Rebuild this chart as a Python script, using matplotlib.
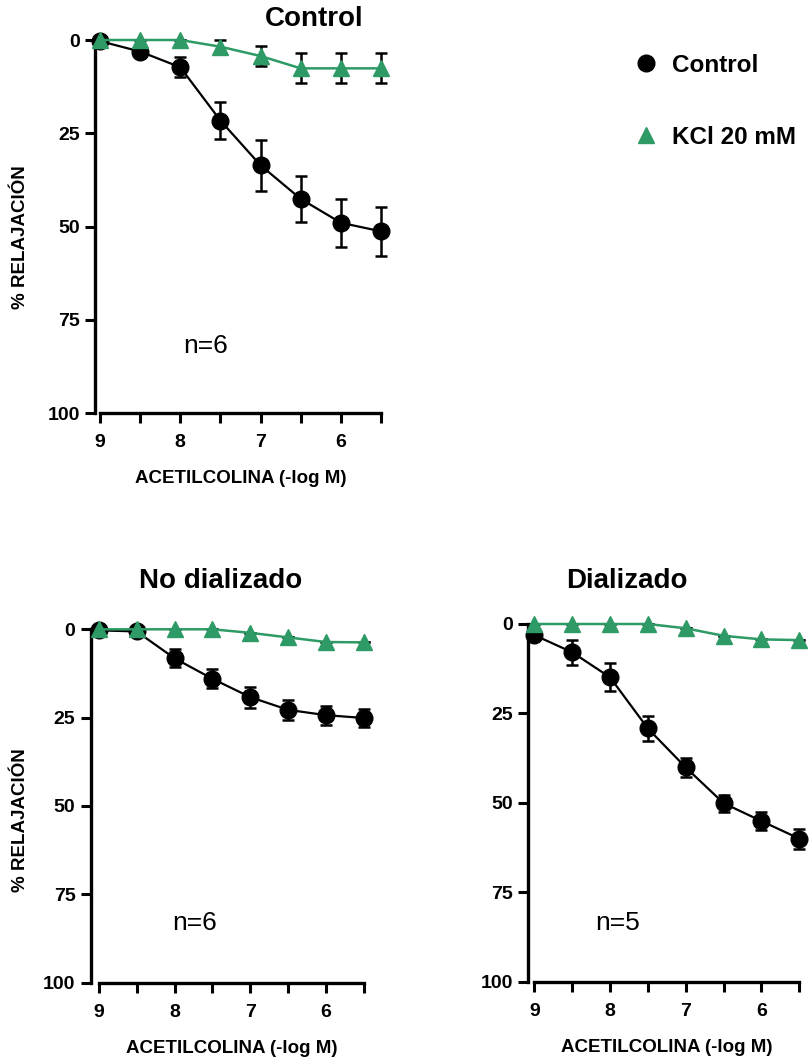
import matplotlib
matplotlib.use('Agg')
import matplotlib.pyplot as plt
from matplotlib.lines import Line2D

plt.rcParams['font.family'] = ['Liberation Sans', 'DejaVu Sans']
plt.rcParams['font.weight'] = 'bold'
plt.rcParams['axes.labelweight'] = 'bold'

GREEN = '#2e9a66'

# -log M of acetylcholine
log_conc = [9, 8.5, 8, 7.5, 7, 6.5, 6, 5.5]
xtick_pos = [9, 8.5, 8, 7.5, 7, 6.5, 6, 5.5]
xtick_labels = ['9', '', '8', '', '7', '', '6', '']
ytick_pos = [0, 25, 50, 75, 100]

# % relaxation (mean and SEM)
ctrl_control = [0.3, 3.1, 7.3, 21.6, 33.6, 42.6, 49.0, 51.3]
ctrl_control_se = [0, 0, 2.7, 5.0, 6.9, 6.1, 6.4, 6.6]
ctrl_kcl = [0, 0, 0, 1.8, 4.3, 7.6, 7.6, 7.6]
ctrl_kcl_se = [0, 0, 0, 1.8, 2.6, 4.0, 4.0, 4.0]

nodial_control = [0.3, 0.6, 8.2, 14.0, 19.2, 22.8, 24.3, 25.1]
nodial_control_se = [0, 0, 2.5, 2.7, 3.0, 2.8, 2.7, 2.6]
nodial_kcl = [0, 0, 0, 0, 1.0, 2.3, 3.6, 3.7]
nodial_kcl_se = [0, 0, 0, 0, 0, 0, 0, 0]

dial_control = [3.1, 7.9, 14.9, 29.2, 40.1, 50.1, 55.1, 60.0]
dial_control_se = [0, 3.5, 3.9, 3.5, 2.6, 2.4, 2.6, 2.8]
dial_kcl = [0, 0, 0, 0, 1.2, 3.3, 4.3, 4.5]
dial_kcl_se = [0, 0, 0, 0, 0, 0, 0, 0]

fig = plt.figure(figsize=(8.1, 10.58), dpi=100)

W, H = 810, 1058


def add_panel(left, right, top, bottom, spine_off):
    ax = fig.add_axes([left / W, 1 - bottom / H, (right - left) / W, (bottom - top) / H])
    ax.set_xlim(9, 5.5)
    ax.set_ylim(100, 0)
    for s in ['top', 'right']:
        ax.spines[s].set_visible(False)
    ax.spines['left'].set_position(('outward', spine_off * 0.72))
    ax.spines['left'].set_bounds(0, 100)
    ax.spines['bottom'].set_bounds(9, 5.5)
    for s in ['left', 'bottom']:
        ax.spines[s].set_linewidth(2.4)
    ax.set_xticks(xtick_pos)
    ax.set_xticklabels(xtick_labels)
    ax.set_yticks(ytick_pos)
    ax.tick_params(axis='both', width=2.2, length=7, labelsize=14)
    ax.tick_params(axis='x', pad=8)
    ax.tick_params(axis='y', pad=4)
    ax.set_xlabel('ACETILCOLINA (-log M)', fontsize=13.5, fontweight='bold', labelpad=14)
    return ax


def draw_series(ax, y_ctrl, se_ctrl, y_kcl, se_kcl):
    ax.errorbar(log_conc, y_ctrl, yerr=se_ctrl, color='black', lw=1.6,
                marker='o', ms=12, mfc='black', mec='black',
                ecolor='black', elinewidth=1.8, capsize=4, capthick=1.8,
                clip_on=False, zorder=3)
    ax.errorbar(log_conc, y_kcl, yerr=se_kcl, color=GREEN, lw=1.8,
                marker='^', ms=12, mfc=GREEN, mec=GREEN,
                ecolor='black', elinewidth=1.8, capsize=4, capthick=1.8,
                clip_on=False, zorder=4)


ax1 = add_panel(100, 381, 40, 413, 5)
draw_series(ax1, ctrl_control, ctrl_control_se, ctrl_kcl, ctrl_kcl_se)
ax1.text(7.68, 82, 'n=6', fontsize=19, fontweight='normal', ha='center', va='center')

ax2 = add_panel(98.7, 364, 629.3, 982.7, 8)
draw_series(ax2, nodial_control, nodial_control_se, nodial_kcl, nodial_kcl_se)
ax2.text(7.74, 83, 'n=6', fontsize=19, fontweight='normal', ha='center', va='center')

ax3 = add_panel(534.3, 799.3, 624, 981.7, 6)
draw_series(ax3, dial_control, dial_control_se, dial_kcl, dial_kcl_se)
ax3.text(7.9, 83.5, 'n=5', fontsize=19, fontweight='normal', ha='center', va='center')

# y axis titles of the left column
fig.text(21 / W, 1 - 237 / H, '% RELAJACIÓN', fontsize=13.5, fontweight='bold',
         rotation=90, ha='center', va='center')
fig.text(21 / W, 1 - 820 / H, '% RELAJACIÓN', fontsize=13.5, fontweight='bold',
         rotation=90, ha='center', va='center')

fig.text(314 / W, 1 - 19 / H, 'Control', fontsize=20, ha='center', va='center')
fig.text(221 / W, 1 - 581 / H, 'No dializado', fontsize=20, ha='center', va='center')
fig.text(627 / W, 1 - 581 / H, 'Dializado', fontsize=20, ha='center', va='center')

handles = [
    Line2D([], [], ls='none', marker='o', ms=12, color='black'),
    Line2D([], [], ls='none', marker='^', ms=12, color=GREEN),
]
fig.legend(handles, ['Control', 'KCl 20 mM'], loc='upper left',
           bbox_to_anchor=(634 / W, 1 - 54 / H), frameon=False,
           fontsize=17.5, handlelength=1, handletextpad=0.55,
           labelspacing=2.0, borderpad=0, borderaxespad=0)

fig.savefig('out.png', dpi=100)
